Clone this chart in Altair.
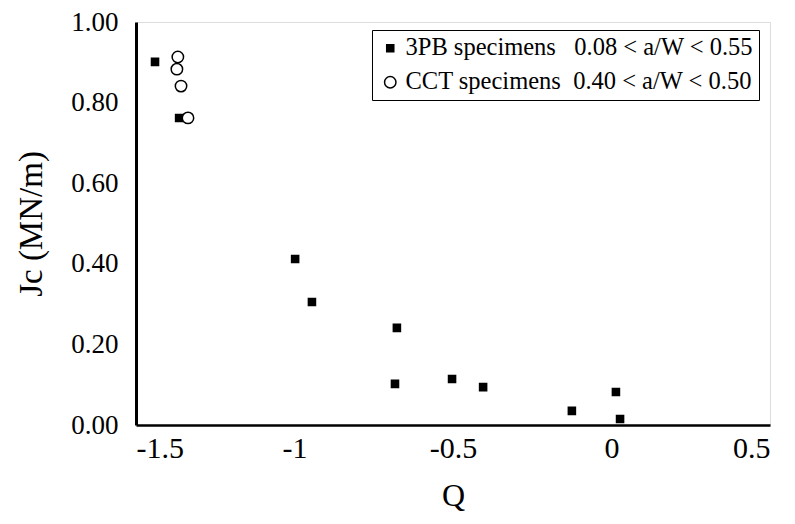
import altair as alt
import pandas as pd

LAB_3PB = "3PB specimens\u00a0\u00a0\u00a00.08 < a/W < 0.55"
LAB_CCT = "CCT specimens\u00a0\u00a00.40 < a/W < 0.50"

q_3pb = [-1.440, -1.364, -0.998, -0.945, -0.677, -0.683, -0.503, -0.405, -0.125, 0.014, 0.027]
jc_3pb = [0.901, 0.762, 0.412, 0.305, 0.241, 0.102, 0.114, 0.094, 0.035, 0.082, 0.015]

q_cct = [-1.368, -1.371, -1.358, -1.336]
jc_cct = [0.913, 0.883, 0.841, 0.762]

df = pd.DataFrame({
    "Q": q_3pb + q_cct,
    "Jc": jc_3pb + jc_cct,
    "series": [LAB_3PB] * len(q_3pb) + [LAB_CCT] * len(q_cct),
})

FONT = "Liberation Serif"
domain = [LAB_3PB, LAB_CCT]

legend = alt.Legend(
    title=None, orient="none", legendX=236, legendY=8,
    strokeColor="black", fillColor="white", padding=6,
    labelFont=FONT, labelFontSize=24.5, labelColor="black",
    rowPadding=9, symbolStrokeWidth=1.5, labelLimit=500, labelOffset=3,
)

chart = alt.Chart(df).mark_point(strokeWidth=1.5, opacity=1).encode(
    x=alt.X("Q:Q", scale=alt.Scale(domain=[-1.5, 0.5], nice=False),
            axis=alt.Axis(title="Q", values=[-1.5, -1, -0.5, 0, 0.5],
                          labelExpr="'' + datum.value",
                          grid=False, ticks=False, labelFont=FONT, labelFontSize=30,
                          labelColor="black", titleFont=FONT, titleFontSize=32,
                          titleFontWeight="normal", titleColor="black",
                          labelPadding=8, titlePadding=17, domainColor="black",
                          domainWidth=2.5)),
    y=alt.Y("Jc:Q", scale=alt.Scale(domain=[0, 1], nice=False),
            axis=alt.Axis(title="Jc (MN/m)", values=[0, 0.2, 0.4, 0.6, 0.8, 1.0],
                          format=".2f", grid=False, ticks=False, labelFont=FONT,
                          labelFontSize=27, labelColor="black", titleFont=FONT,
                          titleFontSize=33, titleFontWeight="normal",
                          titleColor="black", labelPadding=18, titlePadding=22,
                          domainColor="black", domainWidth=3)),
    shape=alt.Shape("series:N", scale=alt.Scale(domain=domain, range=["square", "circle"]), legend=legend),
    fill=alt.Fill("series:N", scale=alt.Scale(domain=domain, range=["black", "white"]), legend=legend),
    size=alt.Size("series:N", scale=alt.Scale(domain=domain, range=[50, 130]), legend=legend),
    stroke=alt.value("black"),
).properties(
    width=634, height=403,
    autosize=alt.AutoSizeParams(type="none"),
    padding={"left": 128, "top": 14, "right": 17, "bottom": 91},
).configure_view(
    stroke="black", strokeWidth=1.5
).configure(background="white")

chart.save("out.html", embed_options={"renderer": "svg", "actions": False})
